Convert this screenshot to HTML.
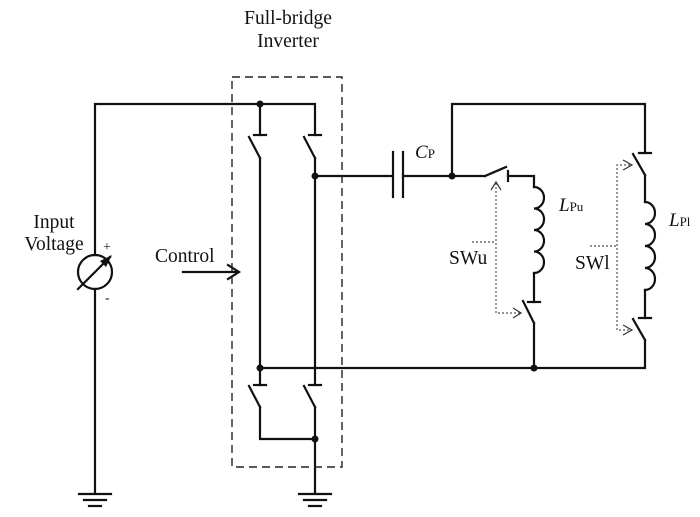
<!DOCTYPE html>
<html><head><meta charset="utf-8"><style>
html,body{margin:0;padding:0;background:#fff;}
svg{display:block;}
text{font-family:"Liberation Serif",serif;fill:#111;}
</style></head><body>
<svg width="700" height="517" viewBox="0 0 700 517" xmlns="http://www.w3.org/2000/svg">
<g stroke="#111" stroke-width="2.2" fill="none" stroke-linecap="square">
<polyline points="95,255 95,104 315,104 315,135"/>
<line x1="260" y1="104" x2="260" y2="135"/>
<line x1="254" y1="135" x2="266" y2="135"/>
<line x1="309" y1="135" x2="321" y2="135"/>
<line x1="249" y1="137" x2="260" y2="158"/>
<line x1="304" y1="137" x2="315" y2="158"/>
<line x1="260" y1="158" x2="260" y2="385"/>
<line x1="315" y1="158" x2="315" y2="385"/>
<line x1="254" y1="385" x2="266" y2="385"/>
<line x1="309" y1="385" x2="321" y2="385"/>
<line x1="249" y1="386" x2="260" y2="407"/>
<line x1="304" y1="386" x2="315" y2="407"/>
<polyline points="260,407 260,439 315,439"/>
<line x1="315" y1="407" x2="315" y2="493"/>
<polyline points="260,368 645,368 645,340"/>
<line x1="95" y1="289" x2="95" y2="493"/>
<line x1="79" y1="494" x2="111" y2="494"/>
<line x1="84" y1="500" x2="106" y2="500"/>
<line x1="89" y1="506" x2="101" y2="506"/>
<line x1="299" y1="494" x2="331" y2="494"/>
<line x1="304" y1="500" x2="326" y2="500"/>
<line x1="309" y1="506" x2="321" y2="506"/>
<circle cx="95" cy="272" r="17"/>
<line x1="78" y1="289" x2="110" y2="257"/>
<line x1="315" y1="176" x2="393" y2="176"/>
<line x1="393" y1="152" x2="393" y2="197"/>
<line x1="403" y1="152" x2="403" y2="197"/>
<line x1="403" y1="176" x2="485" y2="176"/>
<polyline points="452,176 452,104 645,104 645,153"/>
<line x1="485" y1="176" x2="506" y2="167"/>
<line x1="508" y1="171" x2="508" y2="181"/>
<polyline points="508,176 534,176 534,187"/>
<path d="M534,187 a10,10.75 0 0 1 0,21.5 a10,10.75 0 0 1 0,21.5 a10,10.75 0 0 1 0,21.5 a10,10.75 0 0 1 0,21.5"/>
<line x1="534" y1="273" x2="534" y2="302"/>
<line x1="528" y1="302" x2="540" y2="302"/>
<line x1="523" y1="301" x2="534" y2="323"/>
<line x1="534" y1="323" x2="534" y2="368"/>
<line x1="639" y1="153" x2="651" y2="153"/>
<line x1="633" y1="154" x2="645" y2="175"/>
<line x1="645" y1="175" x2="645" y2="202"/>
<path d="M645,202 a10,11 0 0 1 0,22 a10,11 0 0 1 0,22 a10,11 0 0 1 0,22 a10,11 0 0 1 0,22"/>
<line x1="645" y1="290" x2="645" y2="318"/>
<line x1="639" y1="318" x2="651" y2="318"/>
<line x1="633" y1="319" x2="645" y2="340"/>
<line x1="183" y1="272" x2="238" y2="272"/>
<polyline points="228,265 239,272 228,279"/>
</g>
<g fill="#111">
<circle cx="260" cy="104" r="3.5"/>
<circle cx="315" cy="176" r="3.5"/>
<circle cx="260" cy="368" r="3.5"/>
<circle cx="315" cy="439" r="3.5"/>
<circle cx="452" cy="176" r="3.5"/>
<circle cx="534" cy="368" r="3.5"/>
<polygon points="112,255 100,261 106,267"/>
</g>
<rect x="232" y="77" width="110" height="390" fill="none" stroke="#222" stroke-width="1.4" stroke-dasharray="8,5"/>
<g stroke="#555" stroke-width="1.2" fill="none" stroke-dasharray="2,2">
<polyline points="496,183 496,313 520,313"/>
<line x1="472" y1="242" x2="496" y2="242"/>
<polyline points="630,165 617,165 617,330 630,330"/>
<line x1="590" y1="246" x2="617" y2="246"/>
</g>
<g stroke="#333" stroke-width="1.2" fill="none">
<polyline points="491,190 496,182 501,190"/>
<polyline points="513,308 521,313 513,318"/>
<polyline points="623,160 632,165 623,170"/>
<polyline points="623,325 632,330 623,335"/>
</g>
<text x="288" y="24" font-size="19.5" text-anchor="middle">Full-bridge</text>
<text x="288" y="47" font-size="19.5" text-anchor="middle">Inverter</text>
<text x="54" y="228" font-size="19.5" text-anchor="middle">Input</text>
<text x="54" y="250" font-size="19.5" text-anchor="middle">Voltage</text>
<text x="103" y="251" font-size="14">+</text>
<text x="105" y="302" font-size="14">-</text>
<text x="155" y="262" font-size="19.5">Control</text>
<text x="415" y="158" font-size="19" font-style="italic">C<tspan font-size="13" font-style="normal">P</tspan></text>
<text x="559" y="211" font-size="19" font-style="italic">L<tspan font-size="13" font-style="normal">Pu</tspan></text>
<text x="669" y="226" font-size="19" font-style="italic">L<tspan font-size="13" font-style="normal">Pl</tspan></text>
<text x="449" y="264" font-size="19.5">SWu</text>
<text x="575" y="269" font-size="19.5">SWl</text>
</svg>
</body></html>
